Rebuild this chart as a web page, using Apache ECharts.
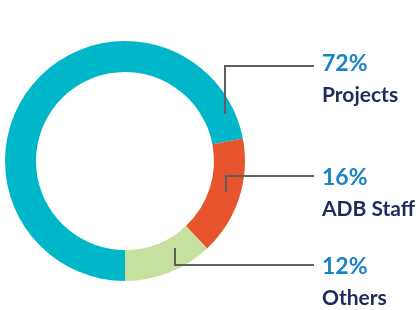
<!DOCTYPE html>
<html>
<head>
<meta charset="utf-8">
<script src="https://cdn.jsdelivr.net/npm/echarts@6/dist/echarts.min.js"></script>
<style>
  html, body { margin: 0; padding: 0; background: #fff; }
  #main { width: 419px; height: 310px; }
</style>
</head>
<body>
<div id="main"></div>
<script>
// data
var categories = ["Projects", "ADB Staff", "Others"];
var values = [72, 16, 12];
var colors = ["#00b6c9", "#e8542d", "#c6e0a0"];

// where each label sits and where its leader line starts on the ring
var labelX = 322;
var labelTop = [49, 163, 252];
var lineY = [66, 176, 265];
var lineStart = [[225, 114], [226, 192], [175, 248]];

var myChart = echarts.init(document.getElementById("main"));

var ring = {
  center: [125, 161],
  radius: [89, 120],
  startAngle: 270,
  clockwise: true
};

var option = {
  animation: false,
  series: [
    // the coloured ring
    Object.assign({
      type: "pie",
      z: 2,
      silent: true,
      itemStyle: { borderWidth: 0 },
      emphasis: { disabled: true },
      label: { show: false },
      labelLine: { show: false },
      data: categories.map(function (name, i) {
        return { name: name, value: values[i], itemStyle: { color: colors[i] } };
      })
    }, ring),
    // same ring again, invisible, only for labels + leader lines drawn on top
    Object.assign({
      type: "pie",
      z: 3,
      silent: true,
      avoidLabelOverlap: false,
      itemStyle: { color: "rgba(0,0,0,0)", borderWidth: 0 },
      emphasis: { disabled: true },
      label: {
        show: true,
        position: "outside",
        formatter: function (p) {
          return "{p|" + p.value + "%}\n{n|" + p.name + "}";
        },
        rich: {
          p: {
            fontFamily: "Lato",
            fontWeight: "bold",
            fontSize: 23,
            color: "#1784c5",
            lineHeight: 30
          },
          n: {
            fontFamily: "Lato",
            fontWeight: "bold",
            fontSize: 21,
            color: "#1d2c5b",
            lineHeight: 32
          }
        }
      },
      labelLine: {
        show: true,
        lineStyle: { color: "#5f5f5f", width: 2 }
      },
      labelLayout: function (params) {
        var i = params.dataIndex;
        var s = lineStart[i];
        var y = lineY[i];
        return {
          x: labelX,
          y: labelTop[i],
          align: "left",
          verticalAlign: "top",
          labelLinePoints: [
            [s[0], s[1]],
            [s[0], y],
            [labelX - 8, y]
          ]
        };
      },
      data: categories.map(function (name, i) {
        return { name: name, value: values[i] };
      })
    }, ring)
  ]
};

myChart.setOption(option);
</script>
</body>
</html>
